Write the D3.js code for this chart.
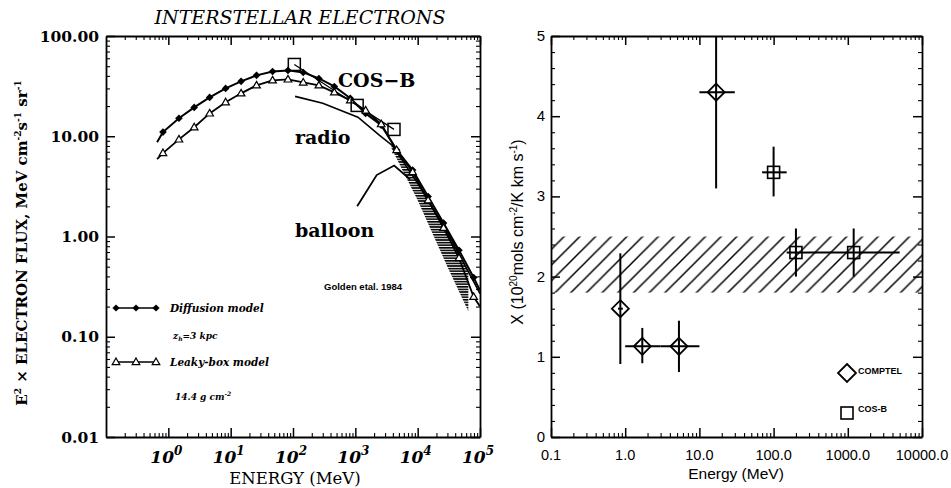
<!DOCTYPE html>
<html>
<head>
<meta charset="utf-8">
<script src="https://cdn.jsdelivr.net/npm/d3@7"></script>
<style>
  body { margin: 0; background: #fff; }
  svg { display: block; }
</style>
</head>
<body>
<div id="chart"></div>
<script>
// ---- left panel: interstellar electron spectra (E^2 x flux, MeV cm^-2 s^-1 sr^-1)
// first and last entries are line ends without a marker
const modelEnergy = [0.66, 0.82, 1.48, 2.6, 4.6, 8.3, 14.7, 26, 47, 83, 146, 260, 460, 830, 1460, 2600, 4600, 8300, 14700, 26000, 46000, 79000, 100000];
const diffusionFlux = [8.7, 11.0, 15.1, 19.4, 24.4, 30.0, 35.3, 40.5, 44.3, 45.4, 43.3, 37.7, 31.4, 23.9, 16.9, 12.9, 7.3, 4.6, 2.5, 1.36, 0.73, 0.39, 0.29];
const leakyFlux = [5.9, 6.8, 9.3, 12.3, 16.9, 21.8, 26.8, 32.2, 36.1, 36.9, 34.4, 32.2, 27.4, 22.8, 18.1, 13.2, 7.3, 4.4, 2.3, 1.22, 0.61, 0.25, 0.2];

const radioEnergy = [108, 300, 1100, 2450, 4000, 10000, 30000, 100000];
const radioFlux = [25, 21.3, 15.5, 10.2, 8.0, 3.4, 1.1, 0.27];

const balloonEnergy = [1070, 2200, 4200, 7600];
const balloonFlux = [2.0, 4.1, 5.1, 3.7];

const cosbEnergy = [105, 1070, 4170];
const cosbFlux = [52, 20.3, 11.7];

const wedgeEnergy = [3800, 10000, 30000, 65000];
const wedgeLow = [7.6, 2.3, 0.5, 0.18];
const wedgeHigh = [8.6, 3.4, 1.2, 0.45];

const xExponents = [0, 1, 2, 3, 4, 5];
const yTicksLeft = [0.01, 0.1, 1, 10, 100];

// ---- right panel: X-factor vs energy
const comptelE = [0.86, 1.7, 5.3, 16.8];
const comptelELo = [0.8, 1.0, 3.0, 10];
const comptelEHi = [0.93, 3.0, 10, 30];
const comptelX = [1.6, 1.13, 1.13, 4.3];
const comptelXLo = [0.91, 0.92, 0.81, 3.1];
const comptelXHi = [2.29, 1.36, 1.45, 5.0];

const cosbE = [100, 200, 1200];
const cosbELo = [70, 150, 300];
const cosbEHi = [150, 300, 5000];
const cosbX = [3.3, 2.3, 2.3];
const cosbXLo = [3.0, 2.0, 2.0];
const cosbXHi = [3.62, 2.6, 2.6];

const bandLow = 1.8, bandHigh = 2.5;
const xTicksRight = [0.1, 1, 10, 100, 1000, 10000];
const yTicksRight = [0, 1, 2, 3, 4, 5];

const W = 951, H = 488;
const serif = "'DejaVu Serif', serif";
const sans = "'Liberation Sans', Arial, sans-serif";

const svg = d3.select('#chart').append('svg')
  .attr('width', W).attr('height', H)
  .style('background-color', 'white');
const defs = svg.append('defs');

defs.append('pattern').attr('id', 'hatchH')
  .attr('patternUnits', 'userSpaceOnUse').attr('width', 4).attr('height', 2.6)
  .append('rect').attr('width', 4).attr('height', 1.6).attr('fill', '#000');

const P = 15.7;
defs.append('pattern').attr('id', 'hatchD')
  .attr('patternUnits', 'userSpaceOnUse').attr('width', P).attr('height', P)
  .append('path')
  .attr('d', `M-2,2L2,-2M0,${P}L${P},0M${P - 2},${P + 2}L${P + 2},${P - 2}`)
  .attr('stroke', '#000').attr('stroke-width', 1.5);

function logMinors(lo, hi) {
  const out = [];
  for (let p = Math.round(Math.log10(lo)); p < Math.round(Math.log10(hi)); p++)
    for (let k = 2; k < 10; k++) out.push(k * Math.pow(10, p));
  return out;
}
const diamondPath = r => `M0,${-r}L${r},0L0,${r}L${-r},0Z`;
const trianglePath = r => `M0,${-r}L${r * 0.95},${r * 0.65}L${-r * 0.95},${r * 0.65}Z`;

// draws a closed frame with inward ticks on all four sides
function frame(g, box, x, y, xMaj, xMin, yMaj, yMin) {
  const sides = [
    [d3.axisBottom(x), `translate(0,${box.bottom})`, xMaj, xMin],
    [d3.axisTop(x), `translate(0,${box.top})`, xMaj, xMin],
    [d3.axisLeft(y), `translate(${box.left},0)`, yMaj, yMin],
    [d3.axisRight(y), `translate(${box.right},0)`, yMaj, yMin]
  ];
  sides.forEach(([ax, tr, maj, min]) => {
    g.append('g').attr('transform', tr)
      .call(ax.tickValues(min).tickSize(-4).tickSizeOuter(0).tickFormat(''))
      .call(s => s.select('.domain').remove())
      .selectAll('.tick line').attr('stroke-width', 1.1);
    g.append('g').attr('transform', tr)
      .call(ax.tickValues(maj).tickSize(-9).tickSizeOuter(0).tickFormat(''))
      .call(s => s.select('.domain').attr('stroke-width', 1.8))
      .selectAll('.tick line').attr('stroke-width', 1.5);
  });
}

// ================= LEFT PANEL =================
const L = { left: 106, right: 480, top: 36, bottom: 437 };
const xL = d3.scaleLog().domain([0.1, 1e5]).range([L.left, L.right]);
const yL = d3.scaleLog().domain([0.01, 100]).range([L.bottom, L.top]);
const gL = svg.append('g');

frame(gL, L, xL, yL, xExponents.map(e => Math.pow(10, e)), logMinors(0.1, 1e5), yTicksLeft, logMinors(0.01, 100));

gL.selectAll('.ylab').data(yTicksLeft).join('text').attr('class', 'ylab')
  .attr('x', L.left - 7).attr('y', d => yL(d) + 5.5)
  .attr('text-anchor', 'end')
  .style('font-family', serif).style('font-weight', 'bold').style('font-size', '15.5px')
  .text(d3.format('.2f'));

const xl = gL.selectAll('.xlab').data(xExponents).join('text').attr('class', 'xlab')
  .attr('x', d => xL(Math.pow(10, d)) - 2).attr('y', 463)
  .attr('text-anchor', 'middle')
  .style('font-family', serif).style('font-style', 'italic').style('font-weight', 'bold').style('font-size', '17px');
xl.append('tspan').text('10');
xl.append('tspan').attr('dy', -8).style('font-size', '12px').text(d => d);

gL.append('text').attr('x', 295).attr('y', 484).attr('text-anchor', 'middle')
  .style('font-family', serif).style('font-size', '16.5px').text('ENERGY (MeV)');

gL.append('text').attr('x', 300).attr('y', 24).attr('text-anchor', 'middle')
  .style('font-family', serif).style('font-style', 'italic').style('font-size', '19px')
  .text('INTERSTELLAR ELECTRONS');

const ylab = gL.append('text').attr('transform', 'translate(27,243) rotate(-90)')
  .attr('text-anchor', 'middle')
  .style('font-family', serif).style('font-weight', 'bold').style('font-size', '15px');
ylab.append('tspan').text('E');
ylab.append('tspan').attr('dy', -6).style('font-size', '9px').text('2');
ylab.append('tspan').attr('dy', 6).text(' \u00d7 ELECTRON FLUX, MeV cm');
ylab.append('tspan').attr('dy', -6).style('font-size', '9px').text('-2');
ylab.append('tspan').attr('dy', 6).text('s');
ylab.append('tspan').attr('dy', -6).style('font-size', '9px').text('-1');
ylab.append('tspan').attr('dy', 6).text(' sr');
ylab.append('tspan').attr('dy', -6).style('font-size', '9px').text('-1');

const lineL = d3.line().x(d => xL(d[0])).y(d => yL(d[1]));
const pairs = (a, b) => a.map((v, i) => [v, b[i]]);

// hatched wedge at high energy
gL.append('path')
  .datum(wedgeEnergy.map((e, i) => [e, wedgeLow[i], wedgeHigh[i]]))
  .attr('d', d3.area().x(d => xL(d[0])).y0(d => yL(d[1])).y1(d => yL(d[2])))
  .attr('fill', 'url(#hatchH)');

const curves = [
  [pairs(modelEnergy, diffusionFlux), 2],
  [pairs(modelEnergy, leakyFlux), 1.8],
  [pairs(radioEnergy, radioFlux), 1.6],
  [pairs(balloonEnergy, balloonFlux), 1.8],
  [pairs(cosbEnergy, cosbFlux), 1.3]
];
gL.selectAll('.curve').data(curves).join('path').attr('class', 'curve')
  .attr('d', d => lineL(d[0])).attr('fill', 'none')
  .attr('stroke', '#000').attr('stroke-width', d => d[1]);

gL.selectAll('.dif').data(pairs(modelEnergy, diffusionFlux).slice(1, -1)).join('path').attr('class', 'dif')
  .attr('transform', d => `translate(${xL(d[0])},${yL(d[1])})`)
  .attr('d', diamondPath(3.8)).attr('fill', '#000');

gL.selectAll('.leak').data(pairs(modelEnergy, leakyFlux).slice(1, -1)).join('path').attr('class', 'leak')
  .attr('transform', d => `translate(${xL(d[0])},${yL(d[1])})`)
  .attr('d', trianglePath(4)).attr('fill', '#fff').attr('stroke', '#000').attr('stroke-width', 1.2);

gL.selectAll('.cosbL').data(pairs(cosbEnergy, cosbFlux)).join('rect').attr('class', 'cosbL')
  .attr('x', d => xL(d[0]) - 6).attr('y', d => yL(d[1]) - 6)
  .attr('width', 12).attr('height', 12)
  .attr('fill', 'none').attr('stroke', '#000').attr('stroke-width', 1.5);

// annotations
const big = sel => sel.style('font-family', serif).style('font-weight', 'bold').style('font-size', '19px');
gL.append('text').attr('x', 338).attr('y', 87).call(big).text('COS\u2212B');
gL.append('text').attr('x', 295).attr('y', 144).call(big).text('radio');
gL.append('text').attr('x', 295).attr('y', 237).call(big).text('balloon');
gL.append('text').attr('x', 324).attr('y', 290)
  .style('font-family', sans).style('font-weight', 'bold').style('font-size', '9.5px')
  .text('Golden etal. 1984');

// legend
const legX = [116, 136, 156];
const legD = gL.append('g');
legD.append('line').attr('x1', 116).attr('x2', 156).attr('y1', 308).attr('y2', 308).attr('stroke', '#000').attr('stroke-width', 1.5);
legD.selectAll('path').data(legX).join('path')
  .attr('transform', d => `translate(${d},308)`).attr('d', diamondPath(3.6)).attr('fill', '#000');
const legT = gL.append('g');
legT.append('line').attr('x1', 116).attr('x2', 156).attr('y1', 362).attr('y2', 362).attr('stroke', '#000').attr('stroke-width', 1.5);
legT.selectAll('path').data(legX).join('path')
  .attr('transform', d => `translate(${d},362)`).attr('d', trianglePath(4))
  .attr('fill', '#fff').attr('stroke', '#000').attr('stroke-width', 1.2);

const small = sel => sel.style('font-family', serif).style('font-style', 'italic').style('font-weight', 'bold').style('font-size', '10.5px');
gL.append('text').attr('x', 170).attr('y', 312).call(small).text('Diffusion model');
const zh = gL.append('text').attr('x', 173).attr('y', 339).call(small).style('font-size', '9px');
zh.append('tspan').text('z');
zh.append('tspan').attr('dy', 2).style('font-size', '6px').text('h');
zh.append('tspan').attr('dy', -2).text('=3 kpc');
gL.append('text').attr('x', 170).attr('y', 366).call(small).text('Leaky-box model');
const gcm = gL.append('text').attr('x', 175).attr('y', 400).call(small).style('font-size', '9px');
gcm.append('tspan').text('14.4 g cm');
gcm.append('tspan').attr('dy', -4).style('font-size', '6px').text('-2');

// ================= RIGHT PANEL =================
const R = { left: 551, right: 922, top: 36, bottom: 437 };
const xR = d3.scaleLog().domain([0.1, 1e4]).range([R.left, R.right]);
const yR = d3.scaleLinear().domain([0, 5]).range([R.bottom, R.top]);
const gR = svg.append('g');

gR.append('rect')
  .attr('x', R.left).attr('width', R.right - R.left)
  .attr('y', yR(bandHigh)).attr('height', yR(bandLow) - yR(bandHigh))
  .attr('fill', 'url(#hatchD)');

frame(gR, R, xR, yR, xTicksRight, logMinors(0.1, 1e4), yTicksRight, d3.range(0, 5.01, 0.2).filter(v => Math.abs(v - Math.round(v)) > 0.01));

gR.selectAll('.xlabR').data(xTicksRight).join('text').attr('class', 'xlabR')
  .attr('x', d => xR(d)).attr('y', 460).attr('text-anchor', 'middle')
  .style('font-family', sans).style('font-size', '14.5px')
  .text(d3.format('.1f'));
gR.selectAll('.ylabR').data(yTicksRight).join('text').attr('class', 'ylabR')
  .attr('x', R.left - 6).attr('y', d => yR(d) + 5).attr('text-anchor', 'end')
  .style('font-family', sans).style('font-size', '15px')
  .text(d => d);

gR.append('text').attr('x', 736).attr('y', 479).attr('text-anchor', 'middle')
  .style('font-family', sans).style('font-size', '15.5px').text('Energy (MeV)');

const ylabR = gR.append('text').attr('transform', 'translate(523,232) rotate(-90)')
  .attr('text-anchor', 'middle')
  .style('font-family', sans).style('font-size', '16px');
ylabR.append('tspan').text('X (10');
ylabR.append('tspan').attr('dy', -6).style('font-size', '10px').text('20');
ylabR.append('tspan').attr('dy', 6).text('mols cm');
ylabR.append('tspan').attr('dy', -6).style('font-size', '10px').text('-2');
ylabR.append('tspan').attr('dy', 6).text('/K km s');
ylabR.append('tspan').attr('dy', -6).style('font-size', '10px').text('-1');
ylabR.append('tspan').attr('dy', 6).text(')');

const comptel = comptelE.map((e, i) => ({ e, e0: comptelELo[i], e1: comptelEHi[i], v: comptelX[i], v0: comptelXLo[i], v1: comptelXHi[i] }));
const cosb = cosbE.map((e, i) => ({ e, e0: cosbELo[i], e1: cosbEHi[i], v: cosbX[i], v0: cosbXLo[i], v1: cosbXHi[i] }));

function errorBars(data) {
  const g = gR.append('g').attr('stroke', '#000').attr('stroke-width', 2);
  g.selectAll('.v').data(data).join('line')
    .attr('x1', d => xR(d.e)).attr('x2', d => xR(d.e))
    .attr('y1', d => yR(d.v0)).attr('y2', d => yR(d.v1));
  g.selectAll('.h').data(data).join('line')
    .attr('x1', d => xR(d.e0)).attr('x2', d => xR(d.e1))
    .attr('y1', d => yR(d.v)).attr('y2', d => yR(d.v));
}
errorBars(comptel);
errorBars(cosb);

gR.selectAll('.cd').data(comptel).join('path').attr('class', 'cd')
  .attr('transform', d => `translate(${xR(d.e)},${yR(d.v)})`)
  .attr('d', diamondPath(8.5)).attr('fill', 'none').attr('stroke', '#000').attr('stroke-width', 1.8);
gR.selectAll('.cs').data(cosb).join('rect').attr('class', 'cs')
  .attr('x', d => xR(d.e) - 6).attr('y', d => yR(d.v) - 6).attr('width', 12).attr('height', 12)
  .attr('fill', 'none').attr('stroke', '#000').attr('stroke-width', 1.6);

// legend
gR.append('path').attr('transform', 'translate(847,373)').attr('d', diamondPath(9))
  .attr('fill', 'none').attr('stroke', '#000').attr('stroke-width', 1.8);
gR.append('rect').attr('x', 841).attr('y', 407).attr('width', 12).attr('height', 12)
  .attr('fill', 'none').attr('stroke', '#000').attr('stroke-width', 1.6);
gR.append('text').attr('x', 858).attr('y', 374)
  .style('font-family', sans).style('font-weight', 'bold').style('font-size', '9px').text('COMPTEL');
gR.append('text').attr('x', 858).attr('y', 412)
  .style('font-family', sans).style('font-weight', 'bold').style('font-size', '9px').text('COS-B');

svg.selectAll('.tick text').remove();
</script>
</body>
</html>
